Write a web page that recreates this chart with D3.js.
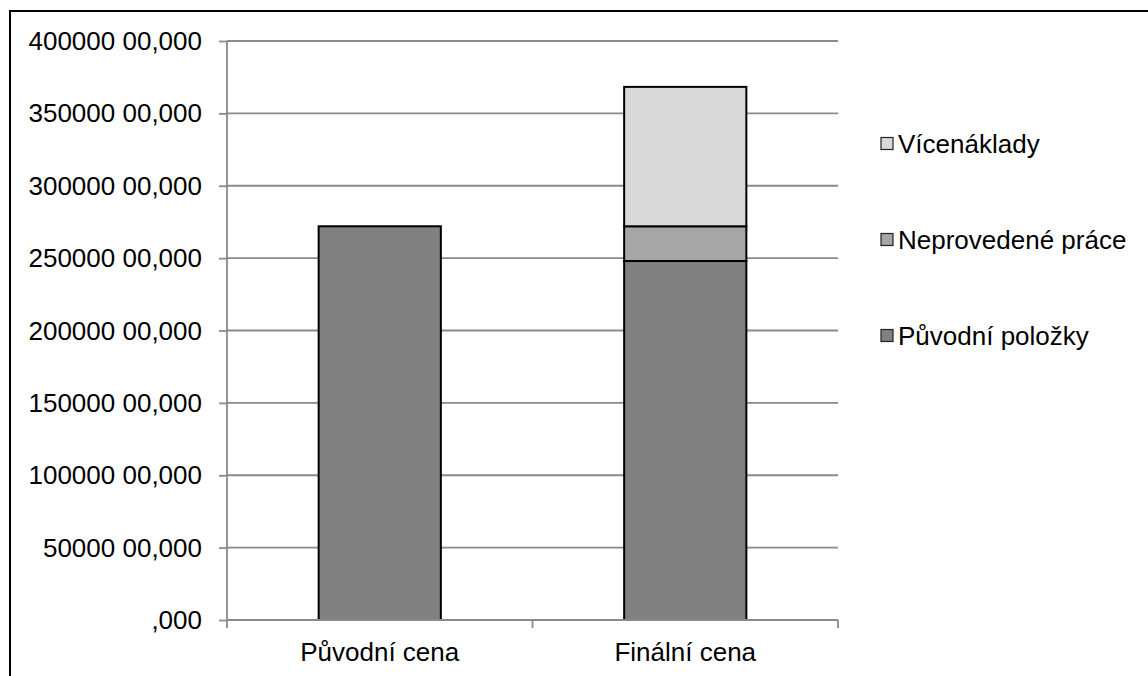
<!DOCTYPE html>
<html><head><meta charset="utf-8">
<script src="https://cdn.jsdelivr.net/npm/d3@7"></script>
<style>body{margin:0;background:#fff}svg{display:block}text{font-family:"Liberation Sans",Arial,sans-serif;fill:#000}</style>
</head><body><svg id="c" width="1148" height="676"></svg>
<script>
const categories = ["Původní cena", "Finální cena"];
const seriesNames = ["Původní položky", "Neprovedené práce", "Vícenáklady"];
const puvodniPolozky = [272000, 248000];
const neprovedenePrace = [0, 24000];
const vicenaklady = [0, 96300];
const yTickValues = [0, 50000, 100000, 150000, 200000, 250000, 300000, 350000, 400000];
const yTickLabels = [",000", "50000 00,000", "100000 00,000", "150000 00,000", "200000 00,000", "250000 00,000", "300000 00,000", "350000 00,000", "400000 00,000"];
const colors = ["#808080", "#a6a6a6", "#d9d9d9"];

const svg = d3.select("#c");
svg.append("rect").attr("x", 10).attr("y", 11).attr("width", 1200).attr("height", 800)
  .attr("fill", "none").attr("stroke", "#000").attr("stroke-width", 2);

const L = 227, R = 838, T = 41, B = 620;
const FS = 26;
const x = d3.scaleBand().domain(categories).range([L, R]).paddingInner(0.6).paddingOuter(0.3);
const y = d3.scaleLinear().domain([0, 400000]).range([B, T]);
const gridCol = "#8a8a8a", gridW = 1.8;

// gridlines
svg.append("g").selectAll("line").data(yTickValues.slice(1)).join("line")
  .attr("x1", L).attr("x2", R).attr("y1", d => y(d)).attr("y2", d => y(d))
  .attr("stroke", gridCol).attr("stroke-width", gridW);

// y axis
const yAxis = svg.append("g").attr("transform", `translate(${L},0)`)
  .call(d3.axisLeft(y).tickValues(yTickValues).tickSize(8).tickFormat(""));
yAxis.select(".domain").attr("stroke", gridCol).attr("stroke-width", gridW).attr("d", `M0,${T}V${B}`);
yAxis.selectAll(".tick line").attr("stroke", gridCol).attr("stroke-width", gridW);
svg.append("g").selectAll("text").data(yTickValues).join("text")
  .attr("x", 202).attr("y", d => y(d) + 9)
  .attr("text-anchor", "end").attr("font-size", FS)
  .text((d, i) => yTickLabels[i]);

// stacked bars
const rows = categories.map((c, i) => ({cat: c, "Původní položky": puvodniPolozky[i], "Neprovedené práce": neprovedenePrace[i], "Vícenáklady": vicenaklady[i]}));
const stack = d3.stack().keys(seriesNames)(rows);
svg.append("g").selectAll("g").data(stack).join("g").attr("fill", (d, i) => colors[i])
  .selectAll("rect").data(d => d.filter(p => p[1] - p[0] > 0)).join("rect")
  .attr("x", d => x(d.data.cat)).attr("width", x.bandwidth())
  .attr("y", d => y(d[1])).attr("height", d => y(d[0]) - y(d[1]))
  .attr("stroke", "#000").attr("stroke-width", 2);

// x axis
const xAxis = svg.append("g").attr("transform", `translate(0,${B})`);
xAxis.append("line").attr("x1", L).attr("x2", R).attr("stroke", gridCol).attr("stroke-width", gridW);
const step = (R - L) / categories.length;
xAxis.selectAll("line.tk").data(d3.range(categories.length + 1)).join("line").attr("class", "tk")
  .attr("x1", i => L + i * step).attr("x2", i => L + i * step).attr("y1", 0).attr("y2", 8)
  .attr("stroke", gridCol).attr("stroke-width", gridW);
xAxis.selectAll("text").data(categories).join("text")
  .attr("x", d => x(d) + x.bandwidth() / 2).attr("y", 41)
  .attr("text-anchor", "middle").attr("font-size", FS).text(d => d);

// legend
const legendOrder = [2, 1, 0];
const lg = svg.append("g").selectAll("g").data(legendOrder).join("g")
  .attr("transform", (d, i) => `translate(881,${137.5 + i * 96})`);
lg.append("rect").attr("width", 12).attr("height", 12).attr("fill", d => colors[d])
  .attr("stroke", "#222").attr("stroke-width", 1.2);
lg.append("text").attr("x", 17).attr("y", 15).attr("font-size", FS).text(d => seriesNames[d]);
</script></body></html>
